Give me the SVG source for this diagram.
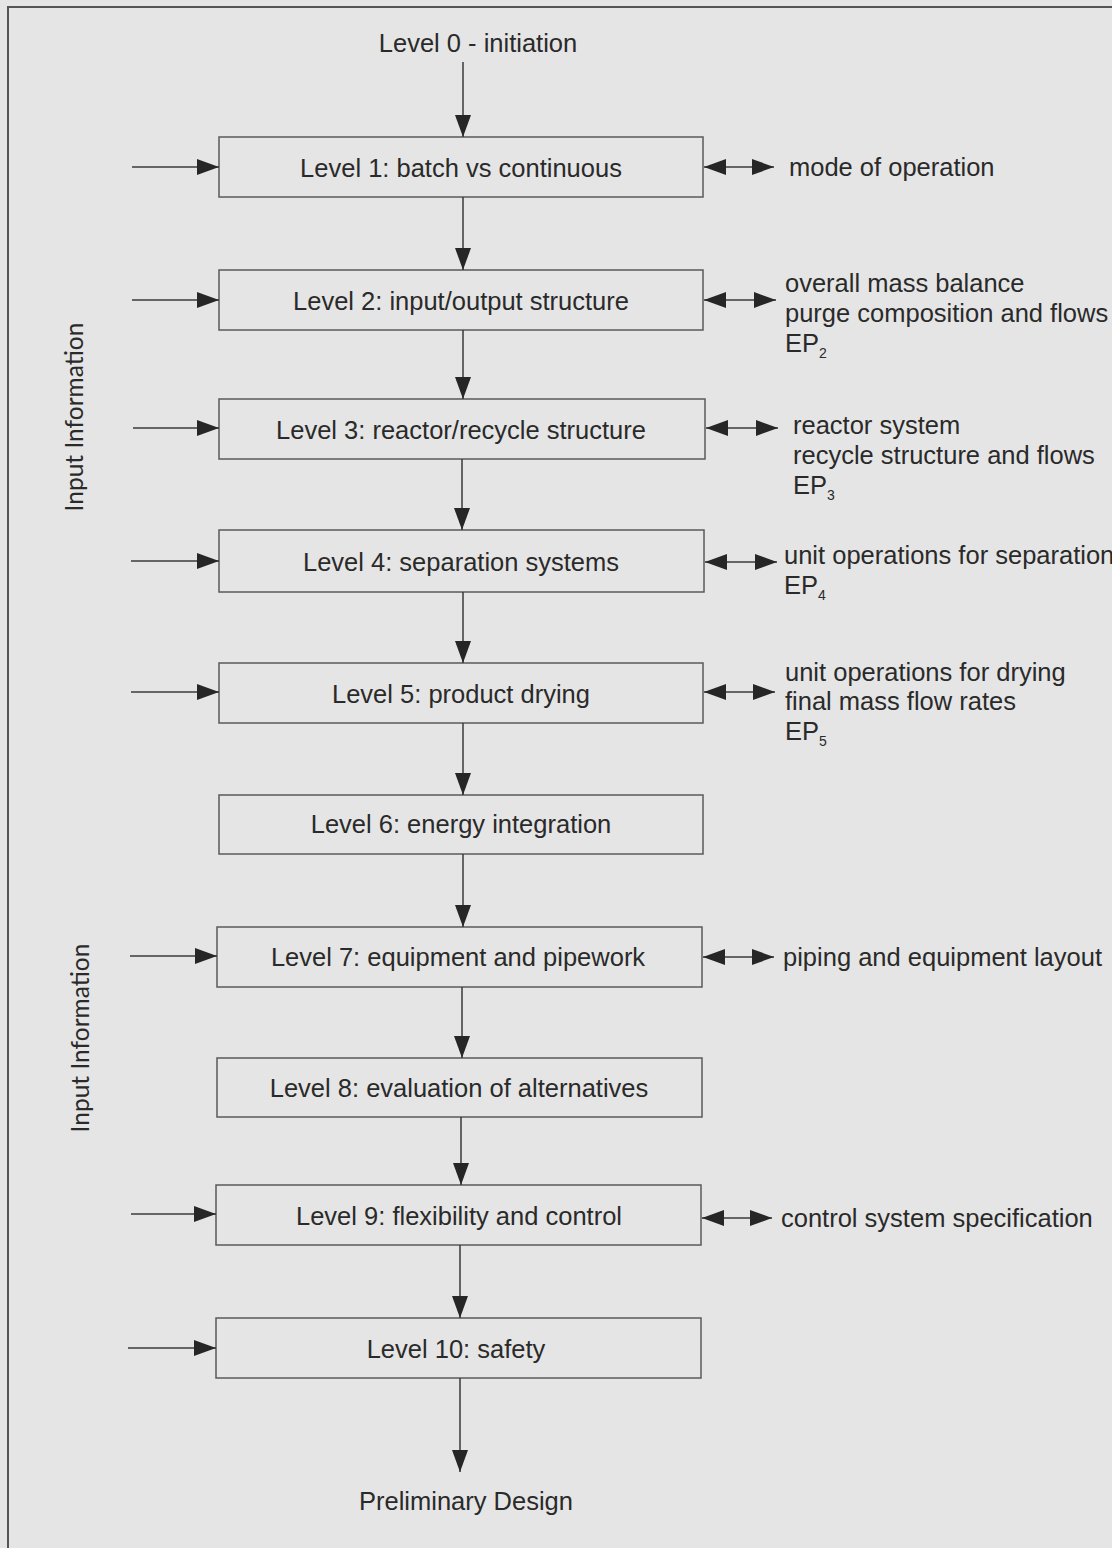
<svg xmlns="http://www.w3.org/2000/svg" width="1112" height="1548" viewBox="0 0 1112 1548">
<style>
.bg{fill:#e5e5e5}
.frame{fill:none;stroke:#555;stroke-width:2}
.box{fill:none;stroke:#5a5a5a;stroke-width:1.5}
.t{font-family:"Liberation Sans",Arial,sans-serif;font-size:25.5px;fill:#2a2a2a}
.c{text-anchor:middle}
.sub{font-size:14px}
.side{font-family:Lato,"Open Sans",sans-serif;font-size:24.5px;fill:#2a2a2a;text-anchor:middle}
.ln{stroke:#3a3a3a;stroke-width:1.5;fill:none}
.a{marker-end:url(#ah)}
.d{marker-start:url(#ah);marker-end:url(#ah)}
</style>
<defs>
<marker id="ah" markerUnits="userSpaceOnUse" markerWidth="22" markerHeight="18" refX="22" refY="9" orient="auto-start-reverse">
<path d="M0,1 L22,9 L0,17 z" fill="#262626"/>
</marker>
</defs>
<rect class="bg" x="0" y="0" width="1112" height="1548"/>
<path class="frame" d="M8,1548 L8,7 L1112,7"/>

<g id="labels">
<text class="t c" x="478" y="52">Level 0 - initiation</text>
<text class="t c" x="466" y="1510">Preliminary Design</text>
<text class="side" transform="translate(83,417) rotate(-90)">Input Information</text>
<text class="side" transform="translate(89,1038) rotate(-90)">Input Information</text>
</g>

<g id="n1"><rect class="box" x="219" y="137" width="484" height="60"/><text class="t c" x="461" y="177">Level 1: batch vs continuous</text></g>
<g id="n2"><rect class="box" x="219" y="270" width="484" height="60"/><text class="t c" x="461" y="310">Level 2: input/output structure</text></g>
<g id="n3"><rect class="box" x="219" y="399" width="486" height="60"/><text class="t c" x="461" y="439">Level 3: reactor/recycle structure</text></g>
<g id="n4"><rect class="box" x="219" y="530" width="485" height="62"/><text class="t c" x="461" y="571">Level 4: separation systems</text></g>
<g id="n5"><rect class="box" x="219" y="663" width="484" height="60"/><text class="t c" x="461" y="703">Level 5: product drying</text></g>
<g id="n6"><rect class="box" x="219" y="795" width="484" height="59"/><text class="t c" x="461" y="833">Level 6: energy integration</text></g>
<g id="n7"><rect class="box" x="217" y="927" width="485" height="60"/><text class="t c" x="458" y="966">Level 7: equipment and pipework</text></g>
<g id="n8"><rect class="box" x="217" y="1058" width="485" height="59"/><text class="t c" x="459" y="1097">Level 8: evaluation of alternatives</text></g>
<g id="n9"><rect class="box" x="216" y="1185" width="485" height="60"/><text class="t c" x="459" y="1225">Level 9: flexibility and control</text></g>
<g id="n10"><rect class="box" x="216" y="1318" width="485" height="60"/><text class="t c" x="456" y="1358">Level 10: safety</text></g>

<g id="outputs">
<text class="t" x="789" y="176">mode of operation</text>
<text class="t" x="785" y="292">overall mass balance</text>
<text class="t" x="785" y="322">purge composition and flows</text>
<text class="t" x="785" y="352">EP<tspan class="sub" dy="6">2</tspan></text>
<text class="t" x="793" y="434">reactor system</text>
<text class="t" x="793" y="464">recycle structure and flows</text>
<text class="t" x="793" y="494">EP<tspan class="sub" dy="6">3</tspan></text>
<text class="t" x="784" y="564">unit operations for separation</text>
<text class="t" x="784" y="594">EP<tspan class="sub" dy="6">4</tspan></text>
<text class="t" x="785" y="681">unit operations for drying</text>
<text class="t" x="785" y="710">final mass flow rates</text>
<text class="t" x="785" y="740">EP<tspan class="sub" dy="6">5</tspan></text>
<text class="t" x="783" y="966">piping and equipment layout</text>
<text class="t" x="781" y="1227">control system specification</text>
</g>

<g id="connectors">
<line class="ln a" x1="463" y1="62" x2="463" y2="137"/>
<line class="ln a" x1="463" y1="197" x2="463" y2="270"/>
<line class="ln a" x1="463" y1="330" x2="463" y2="399"/>
<line class="ln a" x1="462" y1="459" x2="462" y2="530"/>
<line class="ln a" x1="463" y1="592" x2="463" y2="663"/>
<line class="ln a" x1="463" y1="723" x2="463" y2="795"/>
<line class="ln a" x1="463" y1="854" x2="463" y2="927"/>
<line class="ln a" x1="462" y1="987" x2="462" y2="1058"/>
<line class="ln a" x1="461" y1="1117" x2="461" y2="1185"/>
<line class="ln a" x1="460" y1="1245" x2="460" y2="1318"/>
<line class="ln a" x1="460" y1="1378" x2="460" y2="1472"/>

<line class="ln a" x1="132" y1="167" x2="219" y2="167"/>
<line class="ln a" x1="132" y1="300" x2="219" y2="300"/>
<line class="ln a" x1="133" y1="428" x2="219" y2="428"/>
<line class="ln a" x1="131" y1="561" x2="219" y2="561"/>
<line class="ln a" x1="131" y1="692" x2="219" y2="692"/>
<line class="ln a" x1="130" y1="956" x2="217" y2="956"/>
<line class="ln a" x1="131" y1="1214" x2="216" y2="1214"/>
<line class="ln a" x1="128" y1="1348" x2="216" y2="1348"/>

<line class="ln d" x1="704" y1="167" x2="774" y2="167"/>
<line class="ln d" x1="704" y1="300" x2="776" y2="300"/>
<line class="ln d" x1="706" y1="428" x2="778" y2="428"/>
<line class="ln d" x1="705" y1="562" x2="777" y2="562"/>
<line class="ln d" x1="704" y1="692" x2="775" y2="692"/>
<line class="ln d" x1="703" y1="957" x2="774" y2="957"/>
<line class="ln d" x1="702" y1="1218" x2="772" y2="1218"/>
</g>
</svg>
